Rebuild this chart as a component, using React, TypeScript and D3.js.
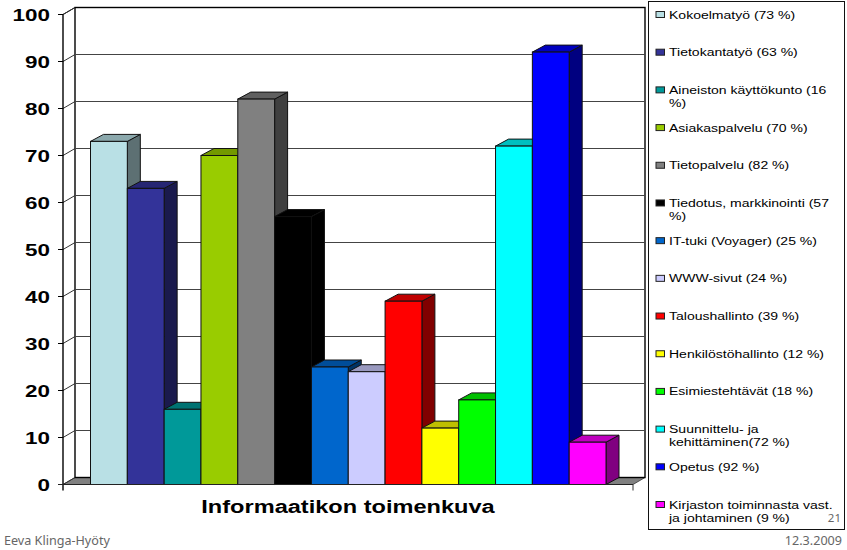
import React from "react";
import * as d3 from "d3";

const categories = ["Kokoelmatyö","Tietokantatyö","Aineiston käyttökunto","Asiakaspalvelu","Tietopalvelu","Tiedotus, markkinointi","IT-tuki (Voyager)","WWW-sivut","Taloushallinto","Henkilöstöhallinto","Esimiestehtävät","Suunnittelu- ja kehittäminen","Opetus","Kirjaston toiminnasta vast. ja johtaminen"];
const values = [73,63,16,70,82,57,25,24,39,12,18,72,92,9];
const colors = ["#B9E0E5","#333399","#009999","#99CC00","#808080","#000000","#0066CC","#CCCCFF","#FF0000","#FFFF00","#00FF00","#00FFFF","#0000FF","#FF00FF"];
const legendLines = [
  ["Kokoelmatyö (73 %)"],["Tietokantatyö (63 %)"],["Aineiston käyttökunto (16","%)"],["Asiakaspalvelu (70 %)"],["Tietopalvelu (82 %)"],["Tiedotus, markkinointi (57","%)"],["IT-tuki (Voyager) (25 %)"],["WWW-sivut (24 %)"],["Taloushallinto (39 %)"],["Henkilöstöhallinto (12 %)"],["Esimiestehtävät (18 %)"],["Suunnittelu- ja","kehittäminen(72 %)"],["Opetus (92 %)"],["Kirjaston toiminnasta vast.","ja johtaminen (9 %)"],
];
const yTicks = [0,10,20,30,40,50,60,70,80,90,100];
const xTitle = "Informaatikon toimenkuva";
const author = "Eeva Klinga-Hyöty";
const dateLabel = "12.3.2009";
const pageNumber = "21";

const FONT = "'Liberation Sans', Arial, sans-serif";
const DX = 12, DY = 7, BDX = 13, BDY = 7;
const shade = (c: string, k: number) => {
  const r = d3.rgb(c);
  return d3.rgb(r.r * k, r.g * k, r.b * k).formatHex();
};
const pts = (p: number[][]) => p.map(d => d.join(",")).join(" ");

export default function App() {
  const y = d3.scaleLinear().domain([0, 100]).range([484.5, 14.5]);
  const x = d3.scaleBand<number>().domain(d3.range(values.length)).range([90.5, 606]).paddingInner(0);
  const legendY = d3.scaleLinear().domain([0, 13]).range([14.5, 504.5]);
  const L = 63, R = 633, B = y(0), T = y(100);
  return (
    <svg width={847} height={550} style={{ position: "absolute", left: 0, top: 0, background: "#fff" }} fontFamily={FONT}>
      {/* back wall */}
      <polygon points={pts([[L + DX, B - DY], [R + DX, B - DY], [R, B], [L, B]])} fill="#808080" stroke="#333" strokeWidth={0.8} />
      <rect x={L + DX} y={T - DY} width={R - L} height={B - T} fill="#fff" stroke="#000" strokeWidth={1.4} />
      <line x1={L} x2={L + DX} y1={T} y2={T - DY} stroke="#000" strokeWidth={1} />
      {yTicks.filter(t => t > 0 && t < 100).map(t => (
        <line key={t} x1={L + DX} x2={R + DX} y1={y(t) - DY} y2={y(t) - DY} stroke="#444" strokeWidth={1} />
      ))}
      {yTicks.map(t => (
        <g key={t}>
          <line x1={L} x2={L + DX} y1={y(t)} y2={y(t) - DY} stroke="#333" strokeWidth={1} />
          <line x1={L - 5} x2={L} y1={y(t)} y2={y(t)} stroke="#000" strokeWidth={1} />
          <text transform={`translate(50,${y(t) + 6.2}) scale(1.32,1)`} textAnchor="end" fontSize={17} fontWeight={700} fill="#000">{t}</text>
        </g>
      ))}
      {/* bars */}
      {values.map((v, i) => {
        const x0 = x(i)!, x1 = x0 + x.bandwidth(), yt = y(v);
        return (
          <g key={categories[i]} stroke="#111" strokeWidth={1}>
            <polygon points={pts([[x1, yt], [x1 + BDX, yt - BDY], [x1 + BDX, B - BDY], [x1, B]])} fill={shade(colors[i], 0.5)} />
            <polygon points={pts([[x0, yt], [x0 + BDX, yt - BDY], [x1 + BDX, yt - BDY], [x1, yt]])} fill={shade(colors[i], 0.75)} />
            <rect x={x0} y={yt} width={x.bandwidth()} height={B - yt} fill={colors[i]} />
          </g>
        );
      })}
      {/* axes */}
      <line x1={L} x2={L} y1={T} y2={B + 6} stroke="#000" strokeWidth={1.4} />
      <line x1={L - 5} x2={R} y1={B} y2={B} stroke="#222" strokeWidth={1.2} />
      <line x1={R} x2={R} y1={B} y2={B + 6} stroke="#333" strokeWidth={1} />
      <text transform="translate(348,513) scale(1.31,1)" textAnchor="middle" fontSize={18} fontWeight={700} fill="#000">{xTitle}</text>
      {/* legend */}
      <rect x={648.5} y={1.5} width={196} height={528} fill="#fff" stroke="#111" strokeWidth={1} />
      {legendLines.map((lines, i) => (
        <g key={i}>
          <rect x={656} y={legendY(i) - 3} width={8.5} height={6} fill={colors[i]} stroke="#222" strokeWidth={1} />
          {lines.map((s, j) => (
            <text key={j} transform={`translate(669,${legendY(i) + 4 + j * 13}) scale(1.22,1)`} fontSize={11.5} fill="#000">{s}</text>
          ))}
        </g>
      ))}
      <text x={841} y={522} textAnchor="end" fontSize={11.5} fontFamily="'Noto Sans', sans-serif" fill="#666">{pageNumber}</text>
      <text x={4} y={545} fontSize={12.6} fontFamily="'Noto Sans', sans-serif" fill="#666">{author}</text>
      <text x={842} y={545} textAnchor="end" fontSize={12.6} fontFamily="'Noto Sans', sans-serif" fill="#666">{dateLabel}</text>
    </svg>
  );
}
